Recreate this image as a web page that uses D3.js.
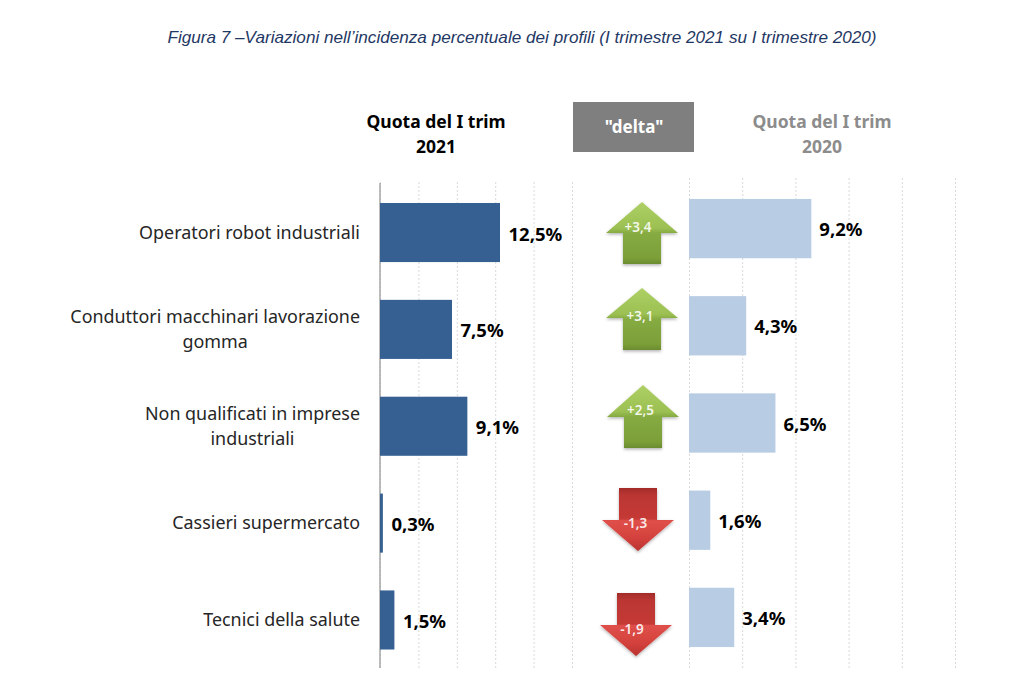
<!DOCTYPE html>
<html><head><meta charset="utf-8">
<script src="https://cdn.jsdelivr.net/npm/d3@7"></script>
<style>html,body{margin:0;padding:0;background:#fff}svg{display:block}text{font-family:"Noto Sans",sans-serif}</style>
</head><body><div id="c"></div>
<script>
const categories = [["Operatori robot industriali"],["Conduttori macchinari lavorazione","gomma"],["Non qualificati in imprese","industriali"],["Cassieri supermercato"],["Tecnici della salute"]];
const values2021 = [12.5,7.5,9.1,0.3,1.5];
const values2020 = [9.2,4.3,6.5,1.6,3.4];
const deltas = ["+3,4","+3,1","+2,5","-1,3","-1,9"];
const gridTicks = [0,4,8,12,16,20];
const fmt = v => v.toFixed(1).replace(".",",")+"%";

const W=1024,H=698;
const svg=d3.select("#c").append("svg").attr("width",W).attr("height",H);
const defs=svg.append("defs");
const grad=(id,stops)=>{const g=defs.append("linearGradient").attr("id",id).attr("x1",0).attr("y1",0).attr("x2",0).attr("y2",1);
  stops.forEach(([o,c])=>g.append("stop").attr("offset",o).attr("stop-color",c));};
grad("up",[[0,"#aed066"],[.42,"#9cc052"],[.5,"#86ab42"],[.9,"#7c9f39"],[1,"#6b8c2f"]]);
grad("down",[[0,"#a32b29"],[.12,"#bb3633"],[.49,"#c53a36"],[.52,"#e0504a"],[.8,"#d3413c"],[1,"#b93330"]]);
const sh=defs.append("filter").attr("id","sh").attr("x","-20%").attr("y","-20%").attr("width","140%").attr("height","140%");
sh.append("feDropShadow").attr("dx",0).attr("dy",1.5).attr("stdDeviation",1.5).attr("flood-color","#000").attr("flood-opacity",.3);

svg.append("text").attr("x",522).attr("y",43).attr("text-anchor","middle")
  .style("font-family","'Liberation Sans'").style("font-style","italic").style("font-size","17.15px").attr("fill","#1f3864")
  .text("Figura 7 –Variazioni nell’incidenza percentuale dei profili (I trimestre 2021 su I trimestre 2020)");

const head=(x,lines,col)=>lines.forEach((t,i)=>svg.append("text").attr("x",x).attr("y",128+i*25).attr("text-anchor","middle")
  .style("font-size","17.5px").style("font-weight",700).attr("fill",col).text(t));
head(436,["Quota del I trim","2021"],"#000");
head(822,["Quota del I trim","2020"],"#8c8c8c");
svg.append("rect").attr("x",573).attr("y",102).attr("width",121).attr("height",50).attr("fill","#7f7f7f");
svg.append("text").attr("x",634).attr("y",133).attr("text-anchor","middle").style("font-size","17px").style("font-weight",700).attr("fill","#fff").text('"delta"');

const idx=d3.range(categories.length);
const yL=d3.scaleBand().domain(idx).range([184.1,668.4]).paddingInner(0.39).paddingOuter(0.195);
const yR=d3.scaleBand().domain(idx).range([180,666]).paddingInner(0.39).paddingOuter(0.195);
const xL=d3.scaleLinear().domain([0,20]).range([380,572]);
const xR=d3.scaleLinear().domain([0,20]).range([689,955]);

const grid=(x,top,bottom)=>{
  const g=svg.append("g").attr("transform",`translate(0,${bottom})`).call(d3.axisBottom(x).tickValues(gridTicks).tickSize(-(bottom-top)).tickFormat(""));
  g.select(".domain").remove();
  g.selectAll("line").attr("stroke","#d9d9d9").attr("stroke-dasharray","2 2");
};
grid(xL,180,668);
grid(xR,178,668);
svg.append("line").attr("x1",xL(0)).attr("x2",xL(0)).attr("y1",183).attr("y2",668).attr("stroke","#a6a6a6").attr("stroke-width",1.5);

svg.selectAll(".b21").data(idx).join("rect").attr("x",xL(0)).attr("y",i=>yL(i)).attr("width",i=>xL(values2021[i])-xL(0)).attr("height",yL.bandwidth()).attr("fill","#366092");
svg.selectAll(".b20").data(idx).join("rect").attr("x",xR(0)).attr("y",i=>yR(i)).attr("width",i=>xR(values2020[i])-xR(0)).attr("height",yR.bandwidth()).attr("fill","#b8cce4");
const valStyle=s=>s.style("font-size","18.5px").style("font-weight",700).attr("fill","#000");
svg.selectAll(".l21").data(idx).join("text").attr("x",i=>xL(values2021[i])+8.5).attr("y",i=>yL(i)+yL.bandwidth()/2+8).call(valStyle).text(i=>fmt(values2021[i]));
svg.selectAll(".l20").data(idx).join("text").attr("x",i=>xR(values2020[i])+8).attr("y",i=>yR(i)+yR.bandwidth()/2+7.5).call(valStyle).text(i=>fmt(values2020[i]));

idx.forEach(i=>{const ls=categories[i];const cy=yL(i)+yL.bandwidth()/2;
  const t=svg.append("text").attr("text-anchor","middle").style("font-size","17.9px").attr("fill","#262626");
  const sp=ls.map((s,j)=>t.append("tspan").attr("y",cy+6+(j-(ls.length-1)/2)*25).text(s));
  const w=d3.max(sp,s=>s.node().getComputedTextLength());
  sp.forEach(s=>s.attr("x",360-w/2));
});

// arrow placement (pixel layout of the hand-placed shapes): tip x, top, bottom, head base, text x, text baseline
const arrowLayout=[[642,202,264,233,638,232],[642,288,350,318,640,321],[643,385,448,417,640.5,415],[638,488,551,520,635.5,528],[636,593,656,625,632,634]];
const arrowPath=(cx,top,bottom,base,up)=>{
  const a=d3.path(),hw=36,sw=19;
  if(up){a.moveTo(cx,top);a.lineTo(cx+hw,base);a.lineTo(cx+sw,base);a.lineTo(cx+sw,bottom);a.lineTo(cx-sw,bottom);a.lineTo(cx-sw,base);a.lineTo(cx-hw,base);}
  else{a.moveTo(cx,bottom);a.lineTo(cx+hw,base);a.lineTo(cx+sw,base);a.lineTo(cx+sw,top);a.lineTo(cx-sw,top);a.lineTo(cx-sw,base);a.lineTo(cx-hw,base);}
  a.closePath();return a.toString();
};
idx.forEach(i=>{const [cx,top,bottom,base,tx,ty]=arrowLayout[i];const up=deltas[i][0]==="+";
  svg.append("path").attr("d",arrowPath(cx,top,bottom,base,up)).attr("fill",`url(#${up?"up":"down"})`).attr("filter","url(#sh)");
  svg.append("text").attr("x",tx).attr("y",ty).attr("text-anchor","middle").style("font-size","13.5px").style("font-weight",600).attr("fill","#fff").attr("fill-opacity",.9).text(deltas[i]);
});
</script></body></html>
